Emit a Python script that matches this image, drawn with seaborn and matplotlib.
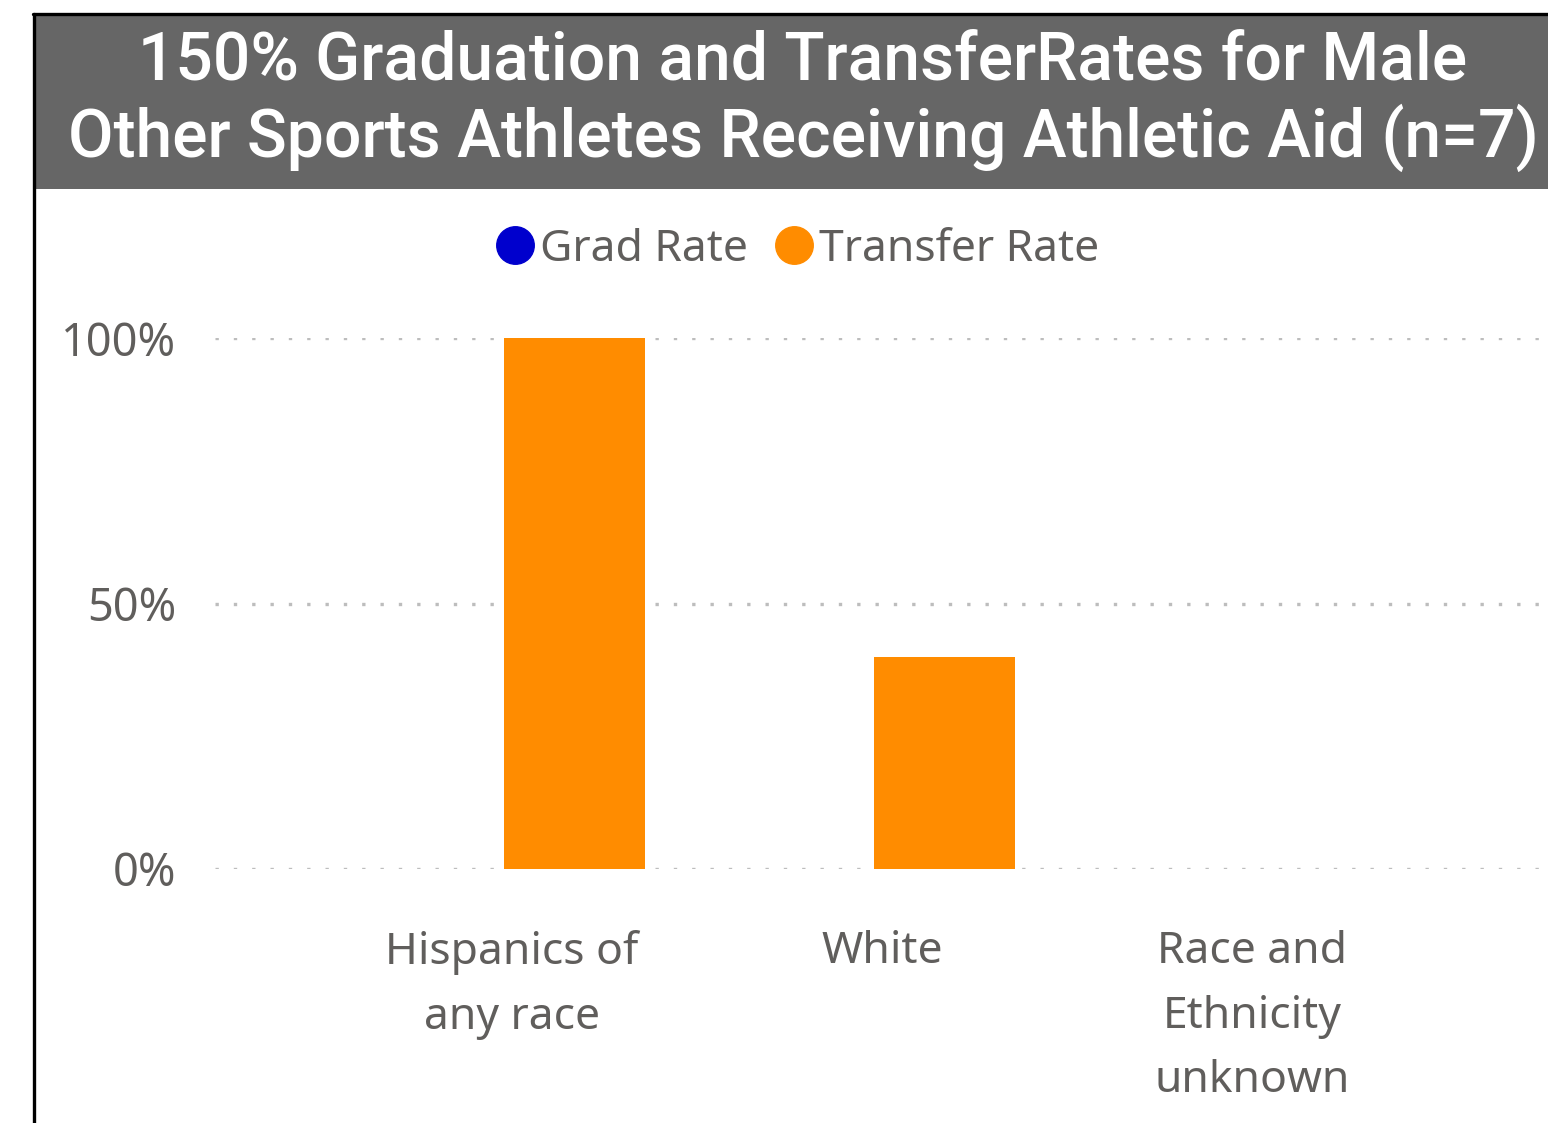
import numpy as np
import pandas as pd
import matplotlib
matplotlib.use("Agg")
import matplotlib.pyplot as plt
import matplotlib.transforms as mtransforms
from matplotlib.lines import Line2D
from matplotlib.patches import Rectangle
from matplotlib.ticker import FuncFormatter
import seaborn as sns

# data
categories = ["Hispanics of\nany race", "White", "Race and\nEthnicity\nunknown"]
grad_rate = [np.nan, np.nan, np.nan]
transfer_rate = [1.00, 0.40, np.nan]
series = ["Grad Rate", "Transfer Rate"]
colors = ["#0000CD", "#FF8C00"]
title_lines = ["150% Graduation and TransferRates for Male",
               "Other Sports Athletes Receiving Athletic Aid (n=7)"]

df = pd.DataFrame({
    "category": categories * 2,
    "series": [series[0]] * 3 + [series[1]] * 3,
    "rate": grad_rate + transfer_rate,
})

sns.set_style("white")
plt.rcParams["font.family"] = ["Noto Sans", "DejaVu Sans"]
txt = "#605E5C"

W, H = 1548, 1123
fig = plt.figure(figsize=(W / 100, H / 100), dpi=100)

# title banner + frame lines
fig.patches.append(Rectangle((35 / W, 1 - 189 / H), 1 - 35 / W, 174 / H,
                             transform=fig.transFigure, facecolor="#666666",
                             edgecolor="none", zorder=0))
fig.lines.append(Line2D([33 / W, 1], [1 - 14 / H, 1 - 14 / H], transform=fig.transFigure,
                        color="black", lw=2.4))
fig.lines.append(Line2D([34 / W, 34 / W], [0, 1 - 14 / H], transform=fig.transFigure,
                        color="black", lw=2.4))
fig.text(803 / W, 1 - 80 / H, title_lines[0], ha="center", va="baseline",
         color="white", fontsize=47.5, family="Roboto", fontweight="medium")
fig.text(803 / W, 1 - 157 / H, title_lines[1], ha="center", va="baseline",
         color="white", fontsize=47.5, family="Roboto", fontweight="medium")

ax = fig.add_axes([215 / W, 1 - 869 / H, 1 - 215 / W, (869 - 338) / H])
sns.barplot(data=df, x="category", y="rate", hue="series", order=categories,
            hue_order=series, palette=colors, width=0.762, linewidth=0,
            saturation=1, ax=ax, legend=False, zorder=3)

ax.set_ylim(0, 1)
ax.set_xlim((215 - 504) / 370, (1548 - 504) / 370)
ax.set_yticks([0, 0.5, 1.0])
ax.yaxis.set_major_formatter(FuncFormatter(lambda v, p: f"{v * 100:.0f}%"))
ax.grid(axis="y", color="#BDBDBD", linestyle=(0, (1, 4.5)), linewidth=2.4, zorder=0)
ax.grid(axis="x", visible=False)
for s in ax.spines.values():
    s.set_visible(False)
ax.tick_params(axis="y", length=0, pad=28, labelsize=32.5, labelcolor=txt)
ax.tick_params(axis="x", length=0, pad=44, labelsize=32, labelcolor=txt)
shift = mtransforms.ScaledTranslation(8 / 100, 0, fig.dpi_scale_trans)
for lab in ax.get_xticklabels():
    lab.set_linespacing(1.62)
    lab.set_transform(lab.get_transform() + shift)
ax.set_xlabel("")
ax.set_ylabel("")

handles = [Line2D([], [], marker="o", linestyle="none", markersize=27,
                  markerfacecolor=c, markeredgecolor=c) for c in colors]
fig.legend(handles, series, loc="center", bbox_to_anchor=(795 / W, 1 - 250 / H),
           ncol=2, frameon=False, fontsize=32, labelcolor=txt, handletextpad=0.0,
           columnspacing=0.5, handlelength=1.1)

fig.savefig("out.png", dpi=100)
